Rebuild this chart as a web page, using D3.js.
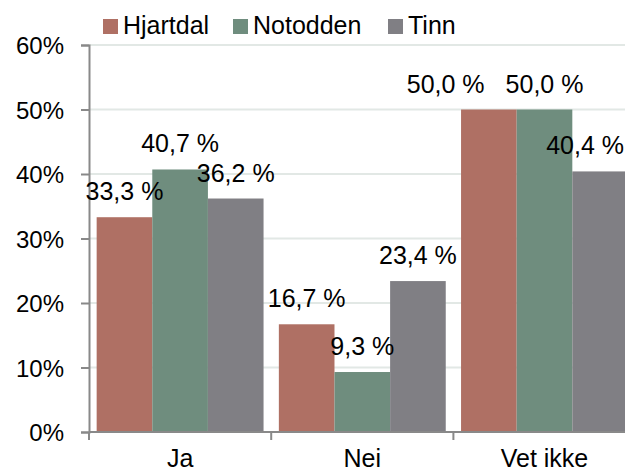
<!DOCTYPE html>
<html>
<head>
<meta charset="utf-8">
<script src="https://cdn.jsdelivr.net/npm/d3@7"></script>
<style>
    body { margin: 0; background: #fff; }
    svg text { font-family: "Liberation Sans", Arial, sans-serif; fill: #000; }
</style>
</head>
<body>
<div id="vis"></div>
<script>
    var categories = ["Ja", "Nei", "Vet ikke"];
    var seriesNames = ["Hjartdal", "Notodden", "Tinn"];
    var hjartdal = [33.3, 16.7, 50.0];
    var notodden = [40.7, 9.3, 50.0];
    var tinn = [36.2, 23.4, 40.4];
    var yTicks = [0, 10, 20, 30, 40, 50, 60];
    var colors = ["#af7064", "#6f8d7e", "#807f84"];

    var values = [hjartdal, notodden, tinn];

    var width = 625,
        height = 473;

    var x0 = 89, bandW = 182.2;

    var svg = d3.select("#vis").append("svg")
        .attr("width", width)
        .attr("height", height);

    var x = d3.scaleBand()
        .domain(categories)
        .range([x0, x0 + bandW * categories.length])
        .paddingInner(0.084)
        .paddingOuter(0.042);

    var xs = d3.scaleBand()
        .domain(seriesNames)
        .range([0, x.bandwidth()]);

    var y = d3.scaleLinear()
        .domain([0, 60])
        .range([432, 45]);

    // gridlines
    svg.append("g")
        .selectAll("line")
        .data(yTicks)
        .enter().append("line")
        .attr("x1", x0)
        .attr("x2", width)
        .attr("y1", function(d) { return y(d); })
        .attr("y2", function(d) { return y(d); })
        .attr("stroke", "#e2e8e5")
        .attr("stroke-width", 2);

    // bars
    var groups = svg.append("g")
        .selectAll("g")
        .data(seriesNames)
        .enter().append("g")
        .attr("fill", function(d, i) { return colors[i]; });

    groups.selectAll("rect")
        .data(function(d, i) {
            return categories.map(function(c, j) {
                return { cat: c, series: d, value: values[i][j] };
            });
        })
        .enter().append("rect")
        .attr("x", function(d) { return x(d.cat) + xs(d.series); })
        .attr("y", function(d) { return y(d.value); })
        .attr("width", xs.bandwidth())
        .attr("height", function(d) { return y(0) - y(d.value); });

    // y axis
    var yAxis = svg.append("g")
        .attr("transform", "translate(" + x0 + ",0)")
        .call(d3.axisLeft(y).tickValues(yTicks).tickSize(8).tickPadding(17)
            .tickFormat(function(d) { return d + "%"; }));
    yAxis.select(".domain").attr("stroke", "#898989").attr("stroke-width", 2);
    yAxis.selectAll(".tick line").attr("stroke", "#898989").attr("stroke-width", 2);
    yAxis.selectAll(".tick text")
        .style("font-size", "24px")
        .attr("dy", "0.36em");

    // x axis
    svg.append("line")
        .attr("x1", x0)
        .attr("x2", width)
        .attr("y1", y(0))
        .attr("y2", y(0))
        .attr("stroke", "#898989")
        .attr("stroke-width", 2);

    svg.append("g")
        .selectAll("line")
        .data(d3.range(categories.length + 1))
        .enter().append("line")
        .attr("x1", function(d) { return x0 + d * bandW; })
        .attr("x2", function(d) { return x0 + d * bandW; })
        .attr("y1", y(0))
        .attr("y2", y(0) + 8)
        .attr("stroke", "#898989")
        .attr("stroke-width", 2);

    svg.append("g")
        .selectAll("text")
        .data(categories)
        .enter().append("text")
        .attr("x", function(d) { return x(d) + x.bandwidth() / 2; })
        .attr("y", 467)
        .attr("text-anchor", "middle")
        .style("font-size", "25px")
        .text(function(d) { return d; });

    // data labels, pushed left when they collide (like Excel does)
    var labels = svg.append("g");
    categories.forEach(function(c, j) {
        var row = [];
        seriesNames.forEach(function(s, i) {
            var v = values[i][j];
            var t = labels.append("text")
                .attr("text-anchor", "middle")
                .attr("y", y(v) - 17)
                .style("font-size", "25px")
                .text(v.toFixed(1).replace(".", ",") + " %");
            var cx = x(c) + xs(s) + xs.bandwidth() / 2;
            var w = t.node().getComputedTextLength();
            if (cx + w / 2 > width - 1) cx = width - 1 - w / 2;
            row.push({ t: t, cx: cx, w: w, y: y(v) - 17 });
        });
        for (var k = row.length - 2; k >= 0; k--) {
            var a = row[k], b = row[k + 1];
            if (Math.abs(a.y - b.y) < 26) {
                var limit = b.cx - b.w / 2 - 21;
                if (a.cx + a.w / 2 > limit) a.cx = limit - a.w / 2;
            }
        }
        row.forEach(function(r) { r.t.attr("x", r.cx); });
    });

    // legend
    var legendX = [103, 233, 388];
    var legend = svg.append("g")
        .selectAll("g")
        .data(seriesNames)
        .enter().append("g")
        .attr("transform", function(d, i) { return "translate(" + legendX[i] + ",0)"; });

    legend.append("rect")
        .attr("x", 0)
        .attr("y", 19)
        .attr("width", 15)
        .attr("height", 15)
        .attr("fill", function(d, i) { return colors[i]; });

    legend.append("text")
        .attr("x", 20)
        .attr("y", 34)
        .style("font-size", "25px")
        .text(function(d) { return d; });
</script>
</body>
</html>
